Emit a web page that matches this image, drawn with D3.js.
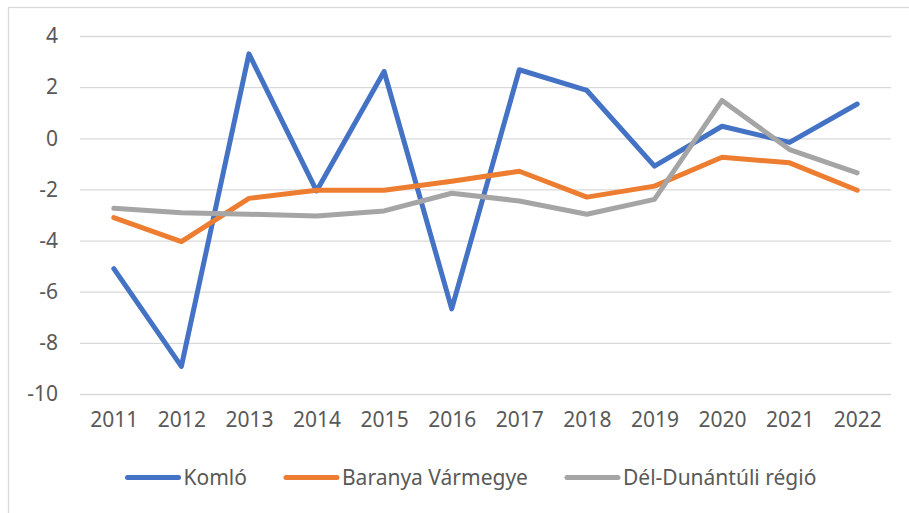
<!DOCTYPE html>
<html>
<head>
<meta charset="utf-8">
<script src="https://cdn.jsdelivr.net/npm/d3@7"></script>
<style>
  body { margin: 0; background: #fff; }
  svg { display: block; font-family: "Noto Sans", sans-serif; }
</style>
</head>
<body>
<div id="chart"></div>
<script>
// Data.
const years = ["2011", "2012", "2013", "2014", "2015", "2016", "2017", "2018", "2019", "2020", "2021", "2022"];
const komlo = [-5.1, -8.92, 3.3, -2.06, 2.61, -6.67, 2.68, 1.87, -1.09, 0.47, -0.16, 1.34];
const baranya = [-3.1, -4.04, -2.35, -2.03, -2.03, -1.68, -1.29, -2.3, -1.87, -0.74, -0.96, -2.03];
const delDunantul = [-2.74, -2.91, -2.97, -3.04, -2.84, -2.15, -2.45, -2.97, -2.39, 1.48, -0.44, -1.35];
const yTicks = [4, 2, 0, -2, -4, -6, -8, -10];

const seriesNames = ["Komló", "Baranya Vármegye", "Dél-Dunántúli régió"];
const seriesValues = [komlo, baranya, delDunantul];
const seriesColors = ["#4472C4", "#ED7D31", "#A5A5A5"];

const width = 909;
const height = 513;
const plot = { left: 80, right: 891, top: 36, bottom: 394 };
const fontSize = 21;

const svg = d3.select("#chart")
  .append("svg")
  .attr("width", width)
  .attr("height", height);

// Chart border.
svg.append("rect")
  .attr("x", 8.5)
  .attr("y", 7.5)
  .attr("width", 1000)
  .attr("height", 600)
  .attr("fill", "none")
  .attr("stroke", "#d9d9d9")
  .attr("stroke-width", 1.3);

// Scales.
const x = d3.scalePoint()
  .domain(years)
  .range([plot.left, plot.right])
  .padding(0.5);

const y = d3.scaleLinear()
  .domain([-10, 4])
  .range([plot.bottom, plot.top]);

// Gridlines + y labels.
const yAxis = svg.append("g")
  .attr("transform", `translate(${plot.left},0)`)
  .call(d3.axisLeft(y)
    .tickValues(yTicks)
    .tickSize(-(plot.right - plot.left))
    .tickPadding(22)
    .tickFormat(d3.format("d")));
yAxis.select(".domain").remove();
yAxis.selectAll(".tick line")
  .attr("stroke", "#d9d9d9")
  .attr("stroke-width", 1.3);
yAxis.selectAll(".tick text")
  .attr("fill", "#595959")
  .attr("font-size", fontSize)
  .attr("font-family", "Noto Sans")
  .text(d => d < 0 ? "-" + Math.abs(d) : d);

// X labels.
const xAxis = svg.append("g")
  .attr("transform", `translate(0,${plot.bottom})`)
  .call(d3.axisBottom(x).tickSize(0).tickPadding(18));
xAxis.select(".domain").remove();
xAxis.selectAll(".tick text")
  .attr("fill", "#595959")
  .attr("font-size", fontSize)
  .attr("font-family", "Noto Sans");

// Lines.
const line = d3.line()
  .x((d, i) => x(years[i]))
  .y(d => y(d));

seriesValues.forEach((values, i) => {
  svg.append("path")
    .datum(values)
    .attr("d", line)
    .attr("fill", "none")
    .attr("stroke", seriesColors[i])
    .attr("stroke-width", 5)
    .attr("stroke-linejoin", "round")
    .attr("stroke-linecap", "round");
});

// Legend.
const legend = svg.append("g");
let legendX = 127.5;
const legendY = 477.5;
seriesNames.forEach((name, i) => {
  legend.append("line")
    .attr("x1", legendX)
    .attr("x2", legendX + 51)
    .attr("y1", legendY)
    .attr("y2", legendY)
    .attr("stroke", seriesColors[i])
    .attr("stroke-width", 5)
    .attr("stroke-linecap", "round");
  const label = legend.append("text")
    .attr("x", legendX + 56)
    .attr("y", legendY)
    .attr("dy", "0.35em")
    .attr("fill", "#595959")
    .attr("font-size", fontSize)
    .text(name);
  legendX += 56 + label.node().getComputedTextLength() + 39;
});
</script>
</body>
</html>
